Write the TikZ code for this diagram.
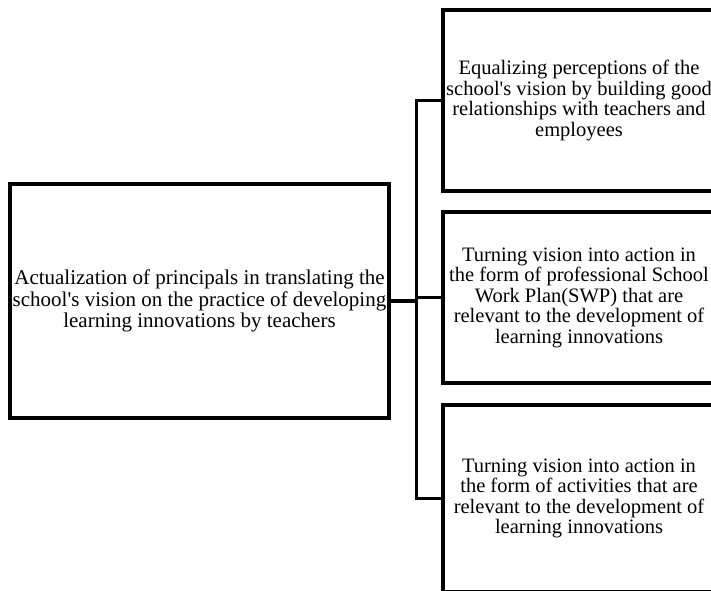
\documentclass[tikz,border=0pt]{standalone}
\usepackage{fontspec}
\setmainfont{Liberation Serif}
\usepackage{tikz}

\begin{document}
\begin{tikzpicture}[x=1pt, y=-1pt,
    box/.style={draw, line width=3.5pt, align=center, inner sep=0pt,
      font=\fontsize{20.5}{20.5}\selectfont},
    link/.style={line width=3pt}]

  \useasboundingbox (0,0) rectangle (711,590);

  % Main box
  \node[box, minimum width=379pt, minimum height=234pt,
    font=\fontsize{21}{21.5}\selectfont] (main) at (199.5,301)
    {Actualization of principals in translating the\\
     school\textquotesingle s vision on the practice of developing\\
     learning innovations by teachers};

  % Right column
  \begin{scope}
    \node[box, minimum width=272pt, minimum height=181pt] (eq) at (579,100.5)
      {Equalizing perceptions of the\\
       school\textquotesingle s vision by building good\\
       relationships with teachers and\\
       employees};
    \node[box, minimum width=272pt, minimum height=171pt] (swp) at (579,297.5)
      {Turning vision into action in\\
       the form of professional School\\
       Work Plan(SWP) that are\\
       relevant to the development of\\
       learning innovations};
    \node[box, minimum width=272pt, minimum height=187pt] (act) at (579,498.5)
      {Turning vision into action in\\
       the form of activities that are\\
       relevant to the development of\\
       learning innovations};
  \end{scope}

  % Connectors
  \coordinate (bus) at (416,301);
  \draw[line width=4.5pt] (main.east) -- (bus);
  \draw[link] (eq.west) -| (bus) |- (act.west);
  \draw[link] (swp.west) -- (swp.west -| bus);

\end{tikzpicture}
\end{document}
